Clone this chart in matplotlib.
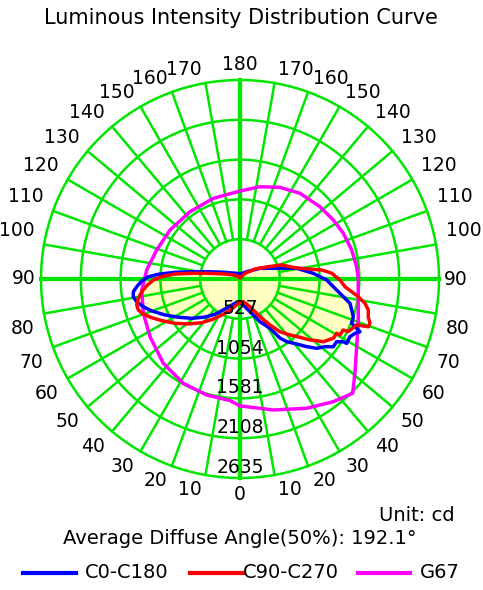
import numpy as np
import matplotlib
matplotlib.use('Agg')
import matplotlib.pyplot as plt
from matplotlib.lines import Line2D

# gamma angle (deg from nadir) and luminous intensity (cd)
c0_angle = [0, 7.2, 17, 25.1, 31.3, 34.1, 36.7, 41.1, 44.6, 47.9, 51.5, 54, 57, 58.7,
            58.9, 62.3, 64.7, 66.3, 68.4, 71.6, 74.5, 77.5, 80.3, 83.5, 89.3, 94.4,
            100.7, 105, 118.1, 137.5, 180]
c0_cd = [318, 347, 453, 625, 764, 944, 1035, 1143, 1258, 1369, 1439, 1527, 1525, 1599,
         1650, 1644, 1684, 1736, 1591, 1581, 1535, 1492, 1388, 1288, 1148, 973,
         764, 548, 301, 131, 66]

c180_angle = [0, 11.6, 26.6, 35.3, 42.6, 50.9, 58.2, 64.4, 70.1, 74, 77.6, 80.6, 83.2,
              85.7, 88.8, 91.4, 93.3, 95.9, 98.6, 103, 114, 121, 150, 180]
c180_cd = [318, 328, 444, 573, 685, 825, 961, 1102, 1243, 1332, 1401, 1433, 1422,
           1372, 1302, 1214, 1083, 865, 647, 430, 217, 159, 87, 66]

c90_angle = [0, 8.3, 19.9, 27.9, 33.1, 37.2, 41.8, 45.8, 48.9, 51.2, 53, 55.4, 57.6,
             60.7, 60.8, 63.7, 64.1, 68.5, 69.6, 71.2, 73.6, 76.4, 79, 81.5, 83.5,
             85.8, 89.4, 93.6, 96.3, 98.3, 101.6, 108.6, 113.5, 123.7, 138.7, 180]
c90_cd = [311, 303, 391, 565, 727, 876, 994, 1108, 1229, 1303, 1381, 1421, 1464,
          1468, 1517, 1525, 1594, 1660, 1813, 1818, 1770, 1748, 1685, 1583, 1488,
          1394, 1324, 1217, 1088, 914, 743, 583, 409, 238, 100, 13]

c270_angle = [0, 4, 15.5, 25.3, 33.7, 41.2, 49, 55.7, 62, 66.3, 70, 73, 75.9, 79.3,
              82.6, 85.9, 89.3, 91.7, 94.4, 96.7, 100.2, 108.4, 121, 150, 180]
c270_cd = [311, 323, 412, 518, 637, 769, 907, 1042, 1174, 1276, 1362, 1407, 1410,
           1370, 1312, 1238, 1148, 1037, 863, 643, 426, 209, 103, 40, 13]

g67_right_angle = [0, 14.3, 27.3, 37.2, 44.6, 50.6, 59.9, 70.9, 81.5, 90.3, 96, 104.6,
                   113.9, 122.3, 132.1, 145, 156.4, 167.8, 180]
g67_right_cd = [1680, 1790, 1926, 2040, 2125, 1969, 1786, 1658, 1583, 1566, 1553, 1528,
                1496, 1462, 1427, 1385, 1324, 1250, 1165]
g67_left_angle = [0, 4.7, 16, 28.5, 42.3, 57.3, 70.5, 83.6, 95.5, 109.2, 125, 143.4,
                  161.7, 180]
g67_left_cd = [1680, 1615, 1598, 1572, 1509, 1415, 1358, 1309, 1241, 1168, 1131, 1110,
               1125, 1165]

ring_values = [527, 1054, 1581, 2108, 2635]
angle_ticks = list(range(0, 181, 10))
diffuse_angle = 192.1

GREEN = '#00e600'
YELLOW = '#ffffc2'


def closed_curve(right_a, right_cd, left_a, left_cd):
    # right half at +gamma, left half at -gamma, joined into one loop
    th = np.concatenate([np.radians(right_a), -np.radians(left_a[::-1])])
    r = np.concatenate([right_cd, left_cd[::-1]])
    return np.append(th, th[0]), np.append(r, r[0])


fig = plt.figure(figsize=(4.83, 5.90), dpi=100)
W, H = 483, 590
cx, cy, R = 240, 279, 199
ax = fig.add_axes([(cx - R) / W, (H - cy - R) / H, 2 * R / W, 2 * R / H], projection='polar')
ax.set_theta_zero_location('S')
ax.set_theta_direction(1)
ax.set_ylim(0, ring_values[-1])
ax.set_axis_off()

th_b, r_b = closed_curve(c0_angle, c0_cd, c180_angle, c180_cd)
th_r, r_r = closed_curve(c90_angle, c90_cd, c270_angle, c270_cd)
th_m, r_m = closed_curve(g67_right_angle, g67_right_cd, g67_left_angle, g67_left_cd)

# shaded area common to both planes
clip_shape = ax.fill(th_b, r_b, facecolor='none', edgecolor='none', zorder=1)[0]
shade = ax.fill(th_r, r_r, facecolor=YELLOW, edgecolor='none', zorder=1)[0]
shade.set_clip_path(clip_shape)

# grid
rmax = ring_values[-1]
full = np.linspace(0, 2 * np.pi, 721)
for rv in ring_values:
    ax.plot(full, np.full_like(full, rv), color=GREEN, lw=1.8, zorder=2, clip_on=False)
for g in angle_ticks:
    for s in (1, -1):
        t = np.radians(g) * s
        if g in (0, 90, 180):
            ax.plot([t, t], [0, rmax], color=GREEN, lw=3.0, zorder=2, clip_on=False)
        else:
            ax.plot([t, t], [ring_values[0], rmax], color=GREEN, lw=1.8, zorder=2,
                    clip_on=False)

ax.plot(th_m, r_m, color='#ff00ff', lw=2.5, zorder=3)
ax.plot(th_b, r_b, color='#0000ff', lw=2.5, zorder=3.5)
ax.plot(th_r, r_r, color='#ff0000', lw=2.5, zorder=4)

# intensity labels along the nadir axis
for rv in ring_values:
    ax.text(0, rv - 139, str(rv), ha='center', va='center', fontsize=13.5, zorder=6)

# angle labels on both sides
for g in angle_ticks:
    t = np.radians(g)
    if g in (0, 180):
        ax.annotate(str(g), xy=(t, rmax), xytext=(0, 15 if g == 180 else -17),
                    textcoords='offset pixels', ha='center', va='center',
                    fontsize=13.5, annotation_clip=False)
        continue
    gap = 5 if g == 90 else 2 + 8 * np.sin(t)
    oy = 0 if g == 90 else (14 if g > 90 else -15)
    for s, ha in ((1, 'left'), (-1, 'right')):
        ax.annotate(str(g), xy=(s * t, rmax), xytext=(s * gap, oy),
                    textcoords='offset pixels', ha=ha, va='center',
                    fontsize=13.5, annotation_clip=False)

fig.text(241 / W, 1 - 17.5 / H, 'Luminous Intensity Distribution Curve',
         ha='center', va='center', fontsize=15)
fig.text(455 / W, 1 - 515.5 / H, 'Unit: cd', ha='right', va='center', fontsize=14)
fig.text(240 / W, 1 - 539 / H, f'Average Diffuse Angle(50%): {diffuse_angle}°',
         ha='center', va='center', fontsize=14)

# legend row
legend_items = [('C0-C180', '#0000ff', 23, 76, 85),
                ('C90-C270', '#ff0000', 190, 243, 243),
                ('G67', '#ff00ff', 358, 410, 420)]
ly = 1 - 573 / H
for label, col, x0, x1, tx in legend_items:
    fig.add_artist(Line2D([x0 / W, x1 / W], [ly, ly], color=col, lw=3,
                          transform=fig.transFigure))
    fig.text(tx / W, ly, label, ha='left', va='center', fontsize=14)

fig.savefig('out.png', dpi=100)
